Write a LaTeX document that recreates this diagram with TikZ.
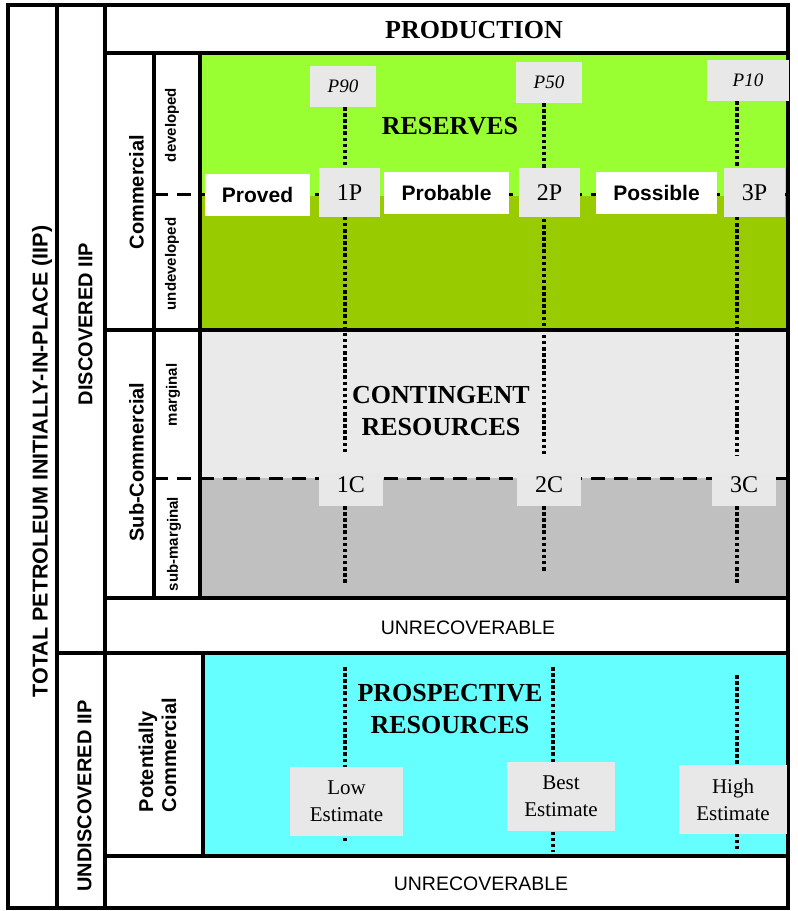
\documentclass[tikz,border=0pt]{standalone}
\usepackage{fontspec}
\setmainfont{Liberation Serif}
\setsansfont{Liberation Sans}
\usetikzlibrary{calc,positioning}

\definecolor{resup}{HTML}{99FF33}
\definecolor{resdown}{HTML}{99CC00}
\definecolor{conup}{HTML}{EAEAEA}
\definecolor{condown}{HTML}{C0C0C0}
\definecolor{prosp}{HTML}{66FFFF}
\definecolor{tagfill}{HTML}{E8E8E8}

\begin{document}
\begin{tikzpicture}[x=1pt, y=-1pt,
    rule/.style={line width=3.4pt},
    cut/.style={line width=3pt, dash pattern=on 14pt off 9pt},
    dots/.style={line width=3.5pt, dash pattern=on 3.5pt off 2.6pt},
    tag/.style={fill=tagfill, inner sep=0pt},
    pct/.style={tag, font=\itshape\fontsize{19}{22}\selectfont, minimum height=41pt},
    sum/.style={tag, font=\fontsize{24}{28}\selectfont, minimum width=61pt, minimum height=49pt},
    cls/.style={fill=white, inner sep=0pt, minimum height=42pt, font=\sffamily\bfseries\fontsize{21}{25}\selectfont},
    cnt/.style={tag, font=\fontsize{24}{28}\selectfont, minimum width=64pt, text height=19pt, text depth=14pt},
    est/.style={tag, align=center, font=\fontsize{21}{27}\selectfont, minimum height=69pt},
    big/.style={align=center, font=\bfseries\fontsize{26}{32}\selectfont},
    lost/.style={font=\sffamily\fontsize{19.5}{23}\selectfont},
    vlab/.style={rotate=90, align=left, font=\sffamily\bfseries\fontsize{20}{23}\selectfont},
    vsub/.style={rotate=90, font=\sffamily\bfseries\fontsize{15}{18}\selectfont}]
    \fill[white] (0,0) rectangle (798,911);
    \useasboundingbox (0,0) rectangle (798,911);

    \fill[resup] (200,53) rectangle (788,196);
    \fill[resdown] (200,196) rectangle (788,330);
    \fill[conup] (200,330) rectangle (788,478);
    \fill[condown] (200,478) rectangle (788,598);
    \fill[prosp] (203,653) rectangle (788,856);

    \draw[cut] (154,194) -- (788,194);
    \draw[cut] (154,478) -- (788,478);

    \coordinate (t1) at (345,107);
    \coordinate (m1) at (345,452);
    \coordinate (u1) at (345,506);
    \coordinate (b1) at (345,585);
    \coordinate (t2) at (544,103);
    \coordinate (m2) at (544,455);
    \coordinate (u2) at (544,506);
    \coordinate (b2) at (544,572);
    \coordinate (t3) at (737,101);
    \coordinate (m3) at (737,455);
    \coordinate (u3) at (737,506);
    \coordinate (b3) at (737,583);
    \coordinate (q1) at (345,667);
    \coordinate (r1) at (345,841);
    \coordinate (q2) at (553,667);
    \coordinate (r2) at (553,852);
    \coordinate (q3) at (737,675);
    \coordinate (r3) at (737,850);
    \draw[dots] (t1) -- (m1);
    \draw[dots] (u1) -- (b1);
    \draw[dots] (t2) -- (m2);
    \draw[dots] (u2) -- (b2);
    \draw[dots] (t3) -- (m3);
    \draw[dots] (u3) -- (b3);
    \draw[dots] (q1) -- (r1);
    \draw[dots] (q2) -- (r2);
    \draw[dots] (q3) -- (r3);

    \draw[rule] (8,5) rectangle (788,908);
    \draw[rule] (57,5) -- (57,908);
    \draw[rule] (105,5) -- (105,908);
    \draw[rule] (105,53) -- (788,53);
    \draw[rule] (154,53) -- (154,598);
    \draw[rule] (200,53) -- (200,598);
    \draw[rule] (105,330) -- (788,330);
    \draw[rule] (105,598) -- (788,598);
    \draw[rule] (57,653) -- (788,653);
    \draw[rule] (203,653) -- (203,856);
    \draw[rule] (105,856) -- (788,856);

    \node[pct, minimum width=66pt] (p90) at (343,86.5) {P90};
    \node[pct, minimum width=66pt] (p50) at (549,82.5) {P50};
    \node[pct, minimum width=82pt] (p10) at (748,80.5) {P10};
    \node[cls, minimum width=105pt] (proved) at (257.5,195) {Proved};
    \node[sum] (onep) at (349.5,192.5) {1P};
    \node[cls, minimum width=125pt] (probable) at (446.5,193) {Probable};
    \node[sum] (twop) at (549.5,192.5) {2P};
    \node[cls, minimum width=121pt] (possible) at (656.5,193) {Possible};
    \node[sum] (threep) at (754.5,192.5) {3P};
    \node[cnt] (onec) at (351,489.5) {1C};
    \node[cnt] (twoc) at (549,489.5) {2C};
    \node[cnt] (threec) at (744,489.5) {3C};
    \node[est, minimum width=113pt] (low) at (346.5,801.5) {Low\\Estimate};
    \node[est, minimum width=108pt] (best) at (561,796.5) {Best\\Estimate};
    \node[est, minimum width=108pt] (high) at (733,799.5) {High\\Estimate};

    \node[big] (prod) at (474,30.5) {PRODUCTION};
    \node[big] (res) at (450,126.5) {RESERVES};
    \node[big] (cont) at (441,411) {CONTINGENT\\RESOURCES};
    \node[big] (pros) at (450,709.5) {PROSPECTIVE\\RESOURCES};
    \node[lost] (unrec) at (468,628) {UNRECOVERABLE};
    \node[lost] (unrecb) at (481,884) {UNRECOVERABLE};

    \node[vlab, font=\sffamily\bfseries\fontsize{21.5}{25}\selectfont] (iip) at (42,461.5) {TOTAL PETROLEUM INITIALLY-IN-PLACE (IIP)};
    \node[vlab] (disc) at (85.5,324) {DISCOVERED IIP};
    \node[vlab] (undisc) at (84.5,796) {UNDISCOVERED IIP};
    \node[vlab] (comm) at (136.5,192) {Commercial};
    \node[vlab] (subcomm) at (136.5,462) {Sub-Commercial};
    \node[vlab] (potcomm) at (157.5,755) {Potentially\\Commercial};
    \node[vsub] (dev) at (172,125) {developed};
    \node[vsub] (undev) at (172,264) {undeveloped};
    \node[vsub] (marg) at (173,395) {marginal};
    \node[vsub] (submarg) at (174,544) {sub-marginal};
\end{tikzpicture}
\end{document}
